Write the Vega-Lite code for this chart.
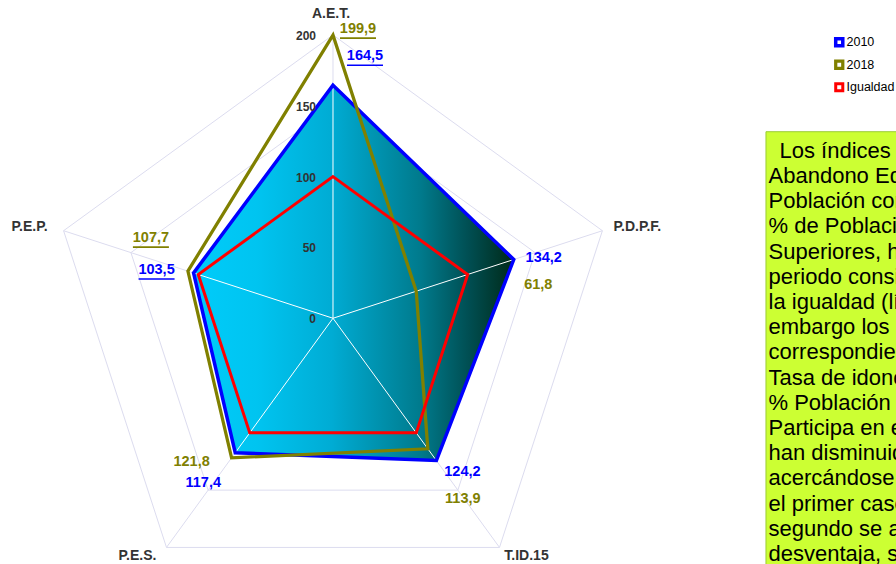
{
  "$schema": "https://vega.github.io/schema/vega-lite/v6.json",
  "width": 896,
  "height": 564,
  "padding": 0,
  "autosize": {"type": "none"},
  "background": "white",
  "config": {"view": {"stroke": null}, "font": "Liberation Sans"},
  "datasets": {
    "series": [
      {"serie": "2010", "eje": "A.E.T.", "i": 0, "valor": 164.5},
      {"serie": "2010", "eje": "P.D.P.F.", "i": 1, "valor": 134.2},
      {"serie": "2010", "eje": "T.ID.15", "i": 2, "valor": 124.2},
      {"serie": "2010", "eje": "P.E.S.", "i": 3, "valor": 117.4},
      {"serie": "2010", "eje": "P.E.P.", "i": 4, "valor": 103.5},
      {"serie": "2018", "eje": "A.E.T.", "i": 0, "valor": 199.9},
      {"serie": "2018", "eje": "P.D.P.F.", "i": 1, "valor": 61.8},
      {"serie": "2018", "eje": "T.ID.15", "i": 2, "valor": 113.9},
      {"serie": "2018", "eje": "P.E.S.", "i": 3, "valor": 121.8},
      {"serie": "2018", "eje": "P.E.P.", "i": 4, "valor": 107.7},
      {"serie": "Igualdad", "eje": "A.E.T.", "i": 0, "valor": 100},
      {"serie": "Igualdad", "eje": "P.D.P.F.", "i": 1, "valor": 100},
      {"serie": "Igualdad", "eje": "T.ID.15", "i": 2, "valor": 100},
      {"serie": "Igualdad", "eje": "P.E.S.", "i": 3, "valor": 100},
      {"serie": "Igualdad", "eje": "P.E.P.", "i": 4, "valor": 100}
    ],
    "ejes": [
      {"eje": "A.E.T.", "i": 0, "valor": 200},
      {"eje": "P.D.P.F.", "i": 1, "valor": 200},
      {"eje": "T.ID.15", "i": 2, "valor": 200},
      {"eje": "P.E.S.", "i": 3, "valor": 200},
      {"eje": "P.E.P.", "i": 4, "valor": 200}
    ],
    "anillos": [
      {"valor": 50, "i": [0, 1, 2, 3, 4]},
      {"valor": 100, "i": [0, 1, 2, 3, 4]},
      {"valor": 150, "i": [0, 1, 2, 3, 4]},
      {"valor": 200, "i": [0, 1, 2, 3, 4]}
    ],
    "escala": [
      {"valor": 0}, {"valor": 50}, {"valor": 100}, {"valor": 150}, {"valor": 200}
    ],
    "nota": [
      {"texto": "\u200b\u2002Los índices de\nAbandono Educativo\nPoblación con\n% de Población con\nSuperiores, han\nperiodo considerado\nla igualdad (línea\nembargo los índices\ncorrespondientes\nTasa de idoneidad\n% Población que\nParticipa en el\nhan disminuido\nacercándose a la\nel primer caso\nsegundo se aleja\ndesventaja, se"}
    ]
  },
  "data": {"name": "series"},
  "transform": [
    {"calculate": "PI/2 - datum.i*2*PI/5", "as": "ang"},
    {"calculate": "datum.valor*cos(datum.ang)", "as": "x"},
    {"calculate": "datum.valor*sin(datum.ang)", "as": "y"},
    {"calculate": "0", "as": "x0"},
    {"calculate": "0", "as": "y0"},
    {"calculate": "replace(format(datum.valor,'.1f'),'.',',')", "as": "etiqueta"}
  ],
  "layer": [
    {
      "data": {"name": "anillos"},
      "transform": [
        {"flatten": ["i"]},
        {"calculate": "PI/2 - datum.i*2*PI/5", "as": "ang"},
        {"calculate": "datum.valor*cos(datum.ang)", "as": "x"},
        {"calculate": "datum.valor*sin(datum.ang)", "as": "y"}
      ],
      "mark": {"type": "line", "interpolate": "linear-closed", "color": "#dcdcef", "strokeWidth": 1},
      "encoding": {
        "x": {"field": "x", "type": "quantitative", "scale": {"domain": [-235.1, 397.5], "nice": false, "zero": false}, "axis": null},
        "y": {"field": "y", "type": "quantitative", "scale": {"domain": [-173.5, 224.7], "nice": false, "zero": false}, "axis": null},
        "detail": {"field": "valor", "type": "nominal"},
        "order": {"field": "i", "type": "quantitative"}
      }
    },
    {
      "data": {"name": "ejes"},
      "transform": [
        {"calculate": "PI/2 - datum.i*2*PI/5", "as": "ang"},
        {"calculate": "datum.valor*cos(datum.ang)", "as": "x"},
        {"calculate": "datum.valor*sin(datum.ang)", "as": "y"},
        {"calculate": "0", "as": "x0"},
        {"calculate": "0", "as": "y0"}
      ],
      "mark": {"type": "rule", "color": "#dcdcef", "strokeWidth": 1},
      "encoding": {
        "x": {"field": "x0", "type": "quantitative"},
        "y": {"field": "y0", "type": "quantitative"},
        "x2": {"field": "x"},
        "y2": {"field": "y"}
      }
    },
    {
      "transform": [{"filter": "datum.serie == '2010'"}],
      "mark": {
        "type": "line",
        "interpolate": "linear-closed",
        "filled": true,
        "fill": {
          "gradient": "linear", "x1": 0, "y1": 0, "x2": 1, "y2": 0,
          "stops": [
            {"offset": 0, "color": "#00ccfa"},
            {"offset": 0.2, "color": "#00c4f0"},
            {"offset": 0.43, "color": "#00acd4"},
            {"offset": 0.71, "color": "#007a8c"},
            {"offset": 0.86, "color": "#004e52"},
            {"offset": 1, "color": "#002a18"}
          ]
        }
      },
      "encoding": {
        "x": {"field": "x", "type": "quantitative"},
        "y": {"field": "y", "type": "quantitative"},
        "order": {"field": "i", "type": "quantitative"}
      }
    },
    {
      "transform": [{"filter": "datum.serie == '2010'"}],
      "mark": {"type": "rule", "color": "white", "strokeWidth": 1},
      "encoding": {
        "x": {"field": "x0", "type": "quantitative"},
        "y": {"field": "y0", "type": "quantitative"},
        "x2": {"field": "x"},
        "y2": {"field": "y"}
      }
    },
    {
      "mark": {"type": "line", "interpolate": "linear-closed"},
      "encoding": {
        "x": {"field": "x", "type": "quantitative"},
        "y": {"field": "y", "type": "quantitative"},
        "order": {"field": "i", "type": "quantitative"},
        "color": {
          "field": "serie", "type": "nominal",
          "scale": {"domain": ["2010", "2018", "Igualdad"], "range": ["#0000ff", "#808000", "#ff0000"]},
          "legend": {
            "orient": "none", "legendX": 833, "legendY": 36, "title": null,
            "symbolType": "square", "symbolSize": 50, "symbolStrokeWidth": 2.5,
            "symbolFillColor": "white", "labelFontSize": 12.5, "labelColor": "#000000",
            "labelOffset": 1, "rowPadding": 1.5, "labelFont": "Liberation Sans"
          }
        },
        "strokeWidth": {
          "field": "serie", "type": "nominal",
          "scale": {"domain": ["2010", "2018", "Igualdad"], "range": [3.5, 3, 5]},
          "legend": null
        }
      }
    },
    {
      "data": {"name": "escala"},
      "transform": [{"calculate": "0", "as": "x0"}],
      "mark": {"type": "text", "align": "right", "baseline": "middle", "dx": -17, "dy": 1, "fontWeight": "bold", "fontSize": 12, "color": "#333333"},
      "encoding": {
        "x": {"field": "x0", "type": "quantitative"},
        "y": {"field": "valor", "type": "quantitative"},
        "text": {"field": "valor", "type": "quantitative"}
      }
    },
    {
      "data": {"name": "ejes"},
      "transform": [
        {"calculate": "PI/2 - datum.i*2*PI/5", "as": "ang"},
        {"calculate": "datum.valor*cos(datum.ang)", "as": "x"},
        {"calculate": "datum.valor*sin(datum.ang)", "as": "y"}
      ],
      "encoding": {
        "x": {"field": "x", "type": "quantitative"},
        "y": {"field": "y", "type": "quantitative"},
        "text": {"field": "eje", "type": "nominal"}
      },
      "layer": [
        {"transform": [{"filter": "datum.eje == 'A.E.T.'"}], "mark": {"type": "text", "dx": -2, "dy": -21, "fontWeight": "bold", "fontSize": 14, "color": "#333333", "baseline": "middle"}},
        {"transform": [{"filter": "datum.eje == 'P.D.P.F.'"}], "mark": {"type": "text", "dx": 35, "dy": -4, "fontWeight": "bold", "fontSize": 14, "color": "#333333", "baseline": "middle"}},
        {"transform": [{"filter": "datum.eje == 'T.ID.15'"}], "mark": {"type": "text", "dx": 27, "dy": 9, "fontWeight": "bold", "fontSize": 14, "color": "#333333", "baseline": "middle"}},
        {"transform": [{"filter": "datum.eje == 'P.E.S.'"}], "mark": {"type": "text", "dx": -29, "dy": 9, "fontWeight": "bold", "fontSize": 14, "color": "#333333", "baseline": "middle"}},
        {"transform": [{"filter": "datum.eje == 'P.E.P.'"}], "mark": {"type": "text", "dx": -34, "dy": -4, "fontWeight": "bold", "fontSize": 14, "color": "#333333", "baseline": "middle"}}
      ]
    },
    {
      "encoding": {
        "x": {"field": "x", "type": "quantitative"},
        "y": {"field": "y", "type": "quantitative"},
        "text": {"field": "etiqueta", "type": "nominal"}
      },
      "layer": [
        {"transform": [{"filter": "datum.serie == '2018' && datum.i == 0"}], "mark": {"type": "text", "dx": 25, "dy": -6, "fontWeight": "bold", "fontSize": 14.5, "color": "#808000", "baseline": "middle"}},
        {"transform": [{"filter": "datum.serie == '2010' && datum.i == 0"}], "mark": {"type": "text", "dx": 32, "dy": -29, "fontWeight": "bold", "fontSize": 14.5, "color": "#0000ff", "baseline": "middle"}},
        {"transform": [{"filter": "datum.serie == '2010' && datum.i == 1"}], "mark": {"type": "text", "dx": 30, "dy": -2, "fontWeight": "bold", "fontSize": 14.5, "color": "#0000ff", "baseline": "middle"}},
        {"transform": [{"filter": "datum.serie == '2018' && datum.i == 1"}], "mark": {"type": "text", "dx": 122, "dy": -6, "fontWeight": "bold", "fontSize": 14.5, "color": "#808000", "baseline": "middle"}},
        {"transform": [{"filter": "datum.serie == '2010' && datum.i == 2"}], "mark": {"type": "text", "dx": 26, "dy": 11, "fontWeight": "bold", "fontSize": 14.5, "color": "#0000ff", "baseline": "middle"}},
        {"transform": [{"filter": "datum.serie == '2018' && datum.i == 2"}], "mark": {"type": "text", "dx": 35, "dy": 50, "fontWeight": "bold", "fontSize": 14.5, "color": "#808000", "baseline": "middle"}},
        {"transform": [{"filter": "datum.serie == '2018' && datum.i == 3"}], "mark": {"type": "text", "dx": -40, "dy": 4, "fontWeight": "bold", "fontSize": 14.5, "color": "#808000", "baseline": "middle"}},
        {"transform": [{"filter": "datum.serie == '2010' && datum.i == 3"}], "mark": {"type": "text", "dx": -32, "dy": 30, "fontWeight": "bold", "fontSize": 14.5, "color": "#0000ff", "baseline": "middle"}},
        {"transform": [{"filter": "datum.serie == '2018' && datum.i == 4"}], "mark": {"type": "text", "dx": -37, "dy": -33, "fontWeight": "bold", "fontSize": 14.5, "color": "#808000", "baseline": "middle"}},
        {"transform": [{"filter": "datum.serie == '2010' && datum.i == 4"}], "mark": {"type": "text", "dx": -37, "dy": -3, "fontWeight": "bold", "fontSize": 14.5, "color": "#0000ff", "baseline": "middle"}}
      ]
    },
    {
      "encoding": {
        "x": {"field": "x", "type": "quantitative"},
        "x2": {"field": "x"},
        "y": {"field": "y", "type": "quantitative"},
        "y2": {"field": "y"}
      },
      "layer": [
        {"transform": [{"filter": "datum.serie == '2018' && datum.i == 0"}], "mark": {"type": "rule", "color": "#808000", "strokeWidth": 1.6, "xOffset": 7, "x2Offset": 43, "yOffset": 3, "y2Offset": 3}},
        {"transform": [{"filter": "datum.serie == '2010' && datum.i == 0"}], "mark": {"type": "rule", "color": "#0000ff", "strokeWidth": 1.6, "xOffset": 14, "x2Offset": 50, "yOffset": -20, "y2Offset": -20}},
        {"transform": [{"filter": "datum.serie == '2018' && datum.i == 4"}], "mark": {"type": "rule", "color": "#808000", "strokeWidth": 1.6, "xOffset": -55, "x2Offset": -19, "yOffset": -24, "y2Offset": -24}},
        {"transform": [{"filter": "datum.serie == '2010' && datum.i == 4"}], "mark": {"type": "rule", "color": "#0000ff", "strokeWidth": 1.6, "xOffset": -55, "x2Offset": -19, "yOffset": 6, "y2Offset": 6}}
      ]
    },
    {
      "data": {"name": "nota"},
      "transform": [
        {"calculate": "305.7", "as": "bx1"},
        {"calculate": "460", "as": "bx2"},
        {"calculate": "131.7", "as": "by1"},
        {"calculate": "-260", "as": "by2"}
      ],
      "mark": {"type": "rect", "fill": "#ccff33", "stroke": "#99cc33", "strokeWidth": 1, "clip": true},
      "encoding": {
        "x": {"field": "bx1", "type": "quantitative"},
        "x2": {"field": "bx2"},
        "y": {"field": "by1", "type": "quantitative"},
        "y2": {"field": "by2"}
      }
    },
    {
      "data": {"name": "nota"},
      "transform": [
        {"calculate": "307.5", "as": "tx"},
        {"calculate": "113.3", "as": "ty"}
      ],
      "mark": {"type": "text", "align": "left", "baseline": "alphabetic", "fontSize": 22, "lineBreak": "\n", "lineHeight": 25.2, "color": "#000000", "clip": true, "font": "Liberation Sans"},
      "encoding": {
        "x": {"field": "tx", "type": "quantitative"},
        "y": {"field": "ty", "type": "quantitative"},
        "text": {"field": "texto", "type": "nominal"}
      }
    }
  ]
}
